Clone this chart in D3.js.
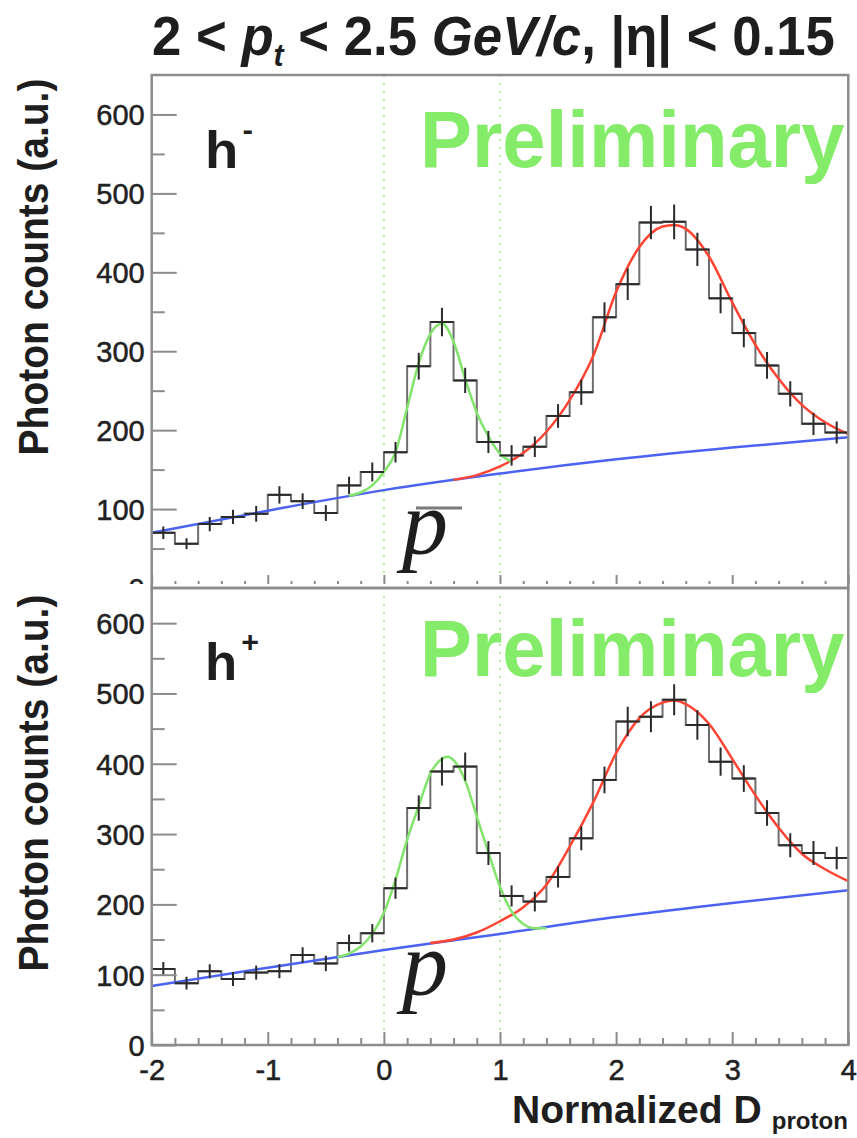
<!DOCTYPE html>
<html>
<head>
<meta charset="utf-8">
<script src="https://cdn.jsdelivr.net/npm/d3@7"></script>
<style>
  body { margin: 0; background: #fff; }
  svg { display: block; }
</style>
</head>
<body>
<svg width="857" height="1138" font-family="'Liberation Sans', Arial, Helvetica, sans-serif"></svg>
<script>
// histogram bins (Normalized D_proton), 0.2 wide
const binCenters = [-1.9, -1.7, -1.5, -1.3, -1.1, -0.9, -0.7, -0.5, -0.3, -0.1,
  0.1, 0.3, 0.5, 0.7, 0.9, 1.1, 1.3, 1.5, 1.7, 1.9,
  2.1, 2.3, 2.5, 2.7, 2.9, 3.1, 3.3, 3.5, 3.7, 3.9];

// h- panel
const countsMinus = [70, 56, 81, 90, 94, 118, 110, 95, 130, 147,
  172, 281, 337, 263, 185, 168, 179, 218, 248, 343,
  385, 463, 464, 429, 367, 323, 282, 246, 208, 197];
const errMinus = [8, 7, 9, 9, 10, 11, 10, 10, 11, 12,
  13, 17, 18, 16, 14, 13, 13, 15, 16, 19,
  20, 21, 22, 21, 19, 18, 17, 16, 14, 14];
const bgMinusX = [-2, -1, 0, 1, 2, 3, 4];
const bgMinusY = [70, 98, 124, 145, 163, 178, 191];
const pbarFitX = [-0.3, -0.2, -0.1, 0, 0.1, 0.2, 0.3, 0.4, 0.5, 0.6, 0.7, 0.8, 0.9, 1.0, 1.1];
const pbarFitY = [117, 121, 130, 147, 172, 228, 285, 322, 335, 312, 265, 222, 192, 170, 160];
const restMinusX = [0.6, 0.8, 1.0, 1.2, 1.4, 1.6, 1.8, 2.0, 2.2, 2.4, 2.5, 2.6, 2.8, 3.0, 3.2, 3.4, 3.6, 3.8, 4.0];
const restMinusY = [137, 143, 154, 171, 198, 238, 293, 375, 432, 458, 460, 455, 420, 362, 308, 265, 232, 210, 195];

// h+ panel
const countsPlus = [108, 88, 105, 94, 103, 105, 128, 116, 145, 159,
  223, 337, 389, 396, 273, 212, 204, 239, 294, 377,
  460, 467, 491, 455, 403, 379, 330, 284, 273, 266];
const errPlus = [10, 9, 10, 10, 10, 10, 11, 11, 12, 13,
  15, 18, 20, 20, 17, 15, 14, 15, 17, 19,
  21, 22, 22, 21, 20, 19, 18, 17, 17, 16];
const bgPlusX = [-2, -1, 0, 1, 2, 3, 4];
const bgPlusY = [84, 110, 135, 158, 182, 202, 220];
const pFitX = [-0.4, -0.3, -0.2, -0.1, 0, 0.1, 0.2, 0.3, 0.4, 0.5, 0.55, 0.6, 0.7, 0.8, 0.9, 1.0, 1.1, 1.2, 1.3, 1.4];
const pFitY = [125, 130, 140, 158, 188, 235, 292, 340, 386, 407, 410, 405, 376, 325, 274, 225, 190, 172, 166, 166];
const restPlusX = [0.4, 0.6, 0.8, 1.0, 1.2, 1.4, 1.6, 1.8, 2.0, 2.2, 2.4, 2.5, 2.6, 2.8, 3.0, 3.2, 3.4, 3.6, 3.8, 4.0];
const restPlusY = [145, 150, 160, 176, 196, 228, 282, 344, 415, 465, 487, 490, 485, 457, 407, 355, 309, 272, 250, 233];

// axes
const xTicks = [-2, -1, 0, 1, 2, 3, 4];
const xMinorTicks = [-1.8, -1.6, -1.4, -1.2, -0.8, -0.6, -0.4, -0.2, 0.2, 0.4, 0.6, 0.8,
  1.2, 1.4, 1.6, 1.8, 2.2, 2.4, 2.6, 2.8, 3.2, 3.4, 3.6, 3.8];
const yTicks = [0, 100, 200, 300, 400, 500, 600];
const yMinorTicks = [50, 150, 250, 350, 450, 550];
const cutLines = [0, 1];

const binWidth = 0.2;
const frameColor = "#8c8c8c";
const ink = "#1e1e1e";

const svg = d3.select("svg");
const x = d3.scaleLinear().domain([-2, 4]).range([151.7, 848.3]);

// squeeze a text horizontally so that it spans `target` px
function fit(sel, target) {
  const w = sel.node().getBBox().width;
  sel.attr("transform", `scale(${target / w},1)`);
}

const panels = [
  { top: 75, bottom: 588, counts: countsMinus, err: errMinus,
    bg: [bgMinusX, bgMinusY], peak: [pbarFitX, pbarFitY], rest: [restMinusX, restMinusY],
    sup: "-", bar: true, labelBase: 168, prelimBase: 167, pBase: 554, xLabels: false, yCenter: 267 },
  { top: 588, bottom: 1045, counts: countsPlus, err: errPlus,
    bg: [bgPlusX, bgPlusY], peak: [pFitX, pFitY], rest: [restPlusX, restPlusY],
    sup: "+", bar: false, labelBase: 680, prelimBase: 676, pBase: 995, xLabels: true, yCenter: 783 }
];

panels.forEach((p, i) => {
  const y = d3.scaleLinear().domain([0, 650]).range([p.bottom, p.top]);
  const g = svg.append("g");

  const clipId = "clip" + i;
  svg.append("clipPath").attr("id", clipId).append("rect")
    .attr("x", x.range()[0]).attr("y", p.top)
    .attr("width", x.range()[1] - x.range()[0]).attr("height", p.bottom - p.top);

  const plot = g.append("g").attr("clip-path", `url(#${clipId})`);

  // dotted cut lines
  plot.selectAll(".cut")
    .data(cutLines)
    .join("line")
    .attr("x1", d => x(d)).attr("x2", d => x(d))
    .attr("y1", p.top).attr("y2", p.bottom)
    .attr("stroke", "#b2f0a2")
    .attr("stroke-width", 2)
    .attr("stroke-dasharray", "2,6");

  // histogram outline
  const steps = binCenters.map((c, k) => [c - binWidth / 2, p.counts[k]]);
  steps.push([binCenters[binCenters.length - 1] + binWidth / 2, p.counts[p.counts.length - 1]]);
  plot.append("path")
    .attr("fill", "none")
    .attr("stroke", "#6e6e6e")
    .attr("stroke-width", 2)
    .attr("d", d3.line().curve(d3.curveStepAfter)
      .x(d => x(d[0])).y(d => y(d[1]))(steps));

  // fit curves
  const curve = (arr, color, w) => plot.append("path")
    .attr("fill", "none")
    .attr("stroke", color)
    .attr("stroke-width", w)
    .attr("d", d3.line().curve(d3.curveMonotoneX)
      .x(d => x(d[0])).y(d => y(d[1]))(arr[0].map((v, k) => [v, arr[1][k]])));
  curve(p.bg, "#4b62f2", 2.5);
  curve(p.rest, "#ff4433", 2.5);
  curve(p.peak, "#82e46c", 2.5);

  // error crosses
  const cross = plot.selectAll(".pt")
    .data(binCenters.map((c, k) => ({ c, v: p.counts[k], e: p.err[k] })))
    .join("g");
  cross.append("line")
    .attr("x1", d => x(d.c - binWidth / 2)).attr("x2", d => x(d.c + binWidth / 2))
    .attr("y1", d => y(d.v)).attr("y2", d => y(d.v));
  cross.append("line")
    .attr("x1", d => x(d.c)).attr("x2", d => x(d.c))
    .attr("y1", d => y(d.v - d.e)).attr("y2", d => y(d.v + d.e));
  cross.selectAll("line").attr("stroke", "#2a2a2a").attr("stroke-width", 2);

  // axes
  const axG = g.append("g");
  if (i === 0) {
    svg.append("clipPath").attr("id", "axclip").append("rect")
      .attr("x", 0).attr("y", 0).attr("width", 857).attr("height", 584);
    axG.attr("clip-path", "url(#axclip)");
  }
  axG.append("g")
    .attr("transform", `translate(${x.range()[0]},0)`)
    .call(d3.axisLeft(y).tickValues(yMinorTicks).tickSizeInner(-13).tickSizeOuter(0).tickFormat(""));
  axG.append("g")
    .attr("transform", `translate(${x.range()[0]},0)`)
    .call(d3.axisLeft(y).tickValues(yTicks).tickSizeInner(-25).tickSizeOuter(0).tickPadding(7))
    .selectAll("text")
    .attr("font-size", 29)
    .attr("fill", "#222")
    .attr("stroke", "#222")
    .attr("stroke-width", 0.5)
    .attr("dy", "0.36em");
  axG.append("g")
    .attr("transform", `translate(0,${p.bottom})`)
    .call(d3.axisBottom(x).tickValues(xMinorTicks).tickSizeInner(-7).tickSizeOuter(0).tickFormat(""));
  const xa = axG.append("g")
    .attr("transform", `translate(0,${p.bottom})`)
    .call(d3.axisBottom(x).tickValues(xTicks).tickSizeInner(-13).tickSizeOuter(0).tickPadding(14)
      .tickFormat(p.xLabels ? (d => String(d)) : ""));
  xa.selectAll("text")
    .attr("font-size", 29)
    .attr("fill", "#222")
    .attr("stroke", "#222")
    .attr("stroke-width", 0.5)
    .attr("dy", "0.72em");
  axG.selectAll(".domain").remove();
  axG.selectAll(".tick line").attr("stroke", frameColor).attr("stroke-width", 2);

  // frame
  g.append("rect")
    .attr("x", x.range()[0]).attr("y", p.top)
    .attr("width", x.range()[1] - x.range()[0]).attr("height", p.bottom - p.top)
    .attr("fill", "none")
    .attr("stroke", frameColor)
    .attr("stroke-width", 2.5);

  // y title
  const yt = g.append("g")
    .attr("transform", `translate(48,${p.yCenter}) rotate(-90)`)
    .append("text")
    .attr("text-anchor", "middle")
    .attr("font-size", 42)
    .attr("font-weight", "bold")
    .attr("fill", ink)
    .text("Photon counts (a.u.)");
  fit(yt, 377);

  // charge label
  const hl = g.append("g").attr("transform", `translate(205,${p.labelBase})`)
    .append("text")
    .attr("font-size", 52)
    .attr("font-weight", "bold")
    .attr("fill", ink);
  hl.append("tspan").text("h");
  hl.append("tspan").attr("font-size", 30).attr("dx", 4).attr("dy", -28).text(p.sup);
  fit(hl, p.sup === "+" ? 54 : 48);

  // Preliminary
  const pr = g.append("g").attr("transform", `translate(420,${p.prelimBase})`)
    .append("text")
    .attr("font-size", 80)
    .attr("font-weight", "bold")
    .attr("fill", "#84ec68")
    .text("Preliminary");
  fit(pr, 425);

  // particle symbol
  g.append("text")
    .attr("x", 402).attr("y", p.pBase)
    .attr("font-family", "'Liberation Serif', 'Times New Roman', serif")
    .attr("font-style", "italic")
    .attr("font-size", 92)
    .attr("fill", ink)
    .text("p");
  if (p.bar) {
    g.append("line")
      .attr("x1", 416).attr("x2", 462)
      .attr("y1", p.top + 433).attr("y2", p.top + 433)
      .attr("stroke", "#7a7a7a").attr("stroke-width", 3);
  }
});

// x title
const xt = svg.append("g").attr("transform", "translate(512,1123)")
  .append("text")
  .attr("font-size", 39)
  .attr("font-weight", "bold")
  .attr("fill", ink);
xt.append("tspan").text("Normalized D");
xt.append("tspan").attr("font-size", 24).attr("dx", 10).attr("dy", 6).text("proton");
fit(xt, 336);

// title
const tt = svg.append("g").attr("transform", "translate(152,55)")
  .append("text")
  .attr("font-size", 56)
  .attr("font-weight", "bold")
  .attr("fill", ink);
tt.append("tspan").text("2 < ");
tt.append("tspan").attr("font-style", "italic").text("p");
tt.append("tspan").attr("font-size", 32).attr("dy", 11).attr("font-style", "italic").text("t");
tt.append("tspan").attr("dy", -11).text(" < 2.5 ");
tt.append("tspan").attr("font-style", "italic").text("GeV/c");
tt.append("tspan").text(", |η| < 0.15");
fit(tt, 683);
</script>
</body>
</html>
